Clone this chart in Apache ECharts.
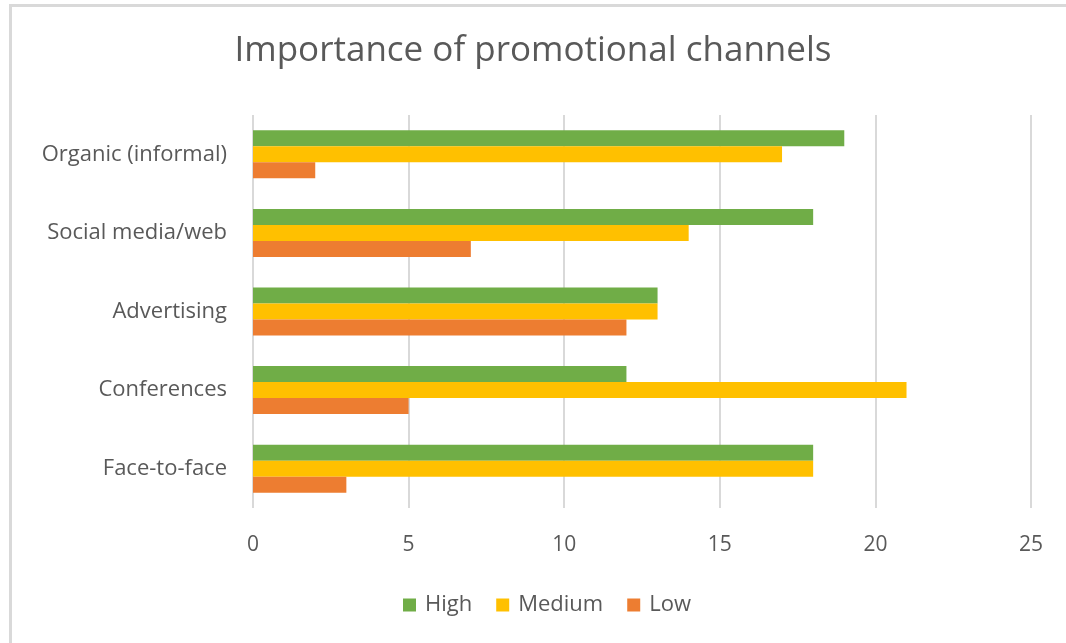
<!DOCTYPE html>
<html>
<head>
<meta charset="utf-8">
<script src="https://cdn.jsdelivr.net/npm/echarts@6/dist/echarts.min.js"></script>
<style>
  html, body { margin: 0; padding: 0; background: #fff; }
  #frame { position: absolute; left: 9px; top: 4px; width: 1070px; height: 650px;
           border-left: 3px solid #d9d9d9; border-top: 3px solid #d9d9d9; box-sizing: border-box; }
  #chart { position: absolute; left: 0; top: 0; width: 1066px; height: 643px; }
</style>
</head>
<body>
<div id="frame"></div>
<div id="chart"></div>
<script>
// Channels listed bottom-to-top on the category axis
const categories = ['Face-to-face', 'Conferences', 'Advertising', 'Social media/web', 'Organic (informal)'];
const high   = [18, 12, 13, 18, 19];
const medium = [18, 21, 13, 14, 17];
const low    = [3, 5, 12, 7, 2];
const xTicks = [0, 5, 10, 15, 20, 25];

const textColor = '#595959';
const fontFamily = '"Open Sans", sans-serif';

const chart = echarts.init(document.getElementById('chart'), null, { renderer: 'canvas' });

function barSeries(name, data, color) {
  return {
    name: name,
    type: 'bar',
    data: data,
    barWidth: 16,
    barGap: '0%',
    itemStyle: { color: color },
    emphasis: { disabled: true }
  };
}

chart.setOption({
  animation: false,
  title: {
    text: 'Importance of promotional channels',
    left: 'center',
    top: 29,
    textStyle: { color: textColor, fontSize: 35, fontWeight: 'normal', fontFamily: fontFamily }
  },
  legend: {
    data: ['High', 'Medium', 'Low'],
    bottom: 22,
    left: 398,
    itemWidth: 13,
    itemHeight: 13,
    itemGap: 24,
    icon: 'rect',
    textStyle: { color: textColor, fontSize: 22, fontFamily: fontFamily, padding: [0, 0, 0, 4] }
  },
  grid: { left: 253, right: 35, top: 115, bottom: 135, containLabel: false },
  xAxis: {
    type: 'value',
    min: xTicks[0],
    max: xTicks[xTicks.length - 1],
    interval: 5,
    axisLine: { show: false },
    axisTick: { show: false },
    axisLabel: { color: textColor, fontSize: 21, fontFamily: fontFamily, margin: 27 },
    splitLine: { show: true, lineStyle: { color: '#d9d9d9', width: 2 } }
  },
  yAxis: {
    type: 'category',
    data: categories,
    axisLine: { show: false },
    axisTick: { show: false },
    axisLabel: { color: textColor, fontSize: 22, fontFamily: fontFamily, margin: 26 }
  },
  series: [
    barSeries('High', high, '#70AD47'),
    barSeries('Medium', medium, '#FFC000'),
    barSeries('Low', low, '#ED7D31')
  ]
});
</script>
</body>
</html>
